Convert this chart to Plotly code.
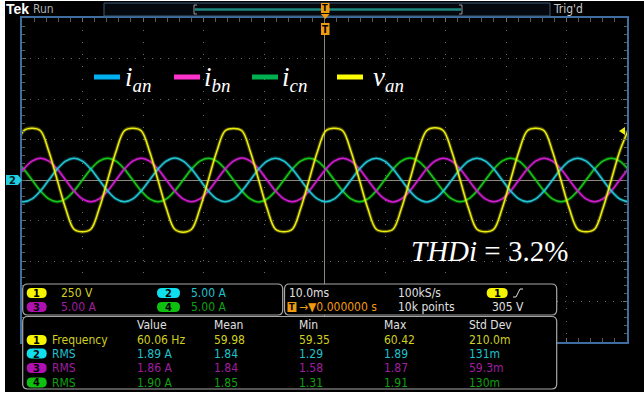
import plotly.graph_objects as go

# ---------------- waveform data (time in ms, currents in A, voltage in V) -------------
t_ms = [-51.113, -49.725, -48.338, -46.95, -45.563, -44.175, -42.788,
        -41.4, -40.013, -38.625, -37.238, -35.85, -34.463, -33.075, -31.688, -30.3, -28.913, -27.525, -26.138,
        -24.75, -23.363, -21.975, -20.588, -19.2, -17.813, -16.425, -15.038, -13.65, -12.263, -10.875, -9.488,
        -8.1, -6.713, -5.325, -3.938, -2.55, -1.163, 0.225, 1.613, 3.0, 4.388, 5.775, 7.163,
        8.55, 9.938, 11.325, 12.713, 14.1, 15.488, 16.875, 18.263, 19.65, 21.038, 22.425, 23.813,
        25.2, 26.588, 27.975, 29.363, 30.75, 32.138, 33.525, 34.913, 36.3, 37.688, 39.075, 40.463,
        41.85, 43.238, 44.625, 46.013, 47.4, 48.788, 50.175]

i_an = [-2.34, -2.70, -2.34, -1.35, 0.00, 1.35, 2.34,
        2.70, 2.34, 1.35, 0.00, -1.35, -2.34, -2.70, -2.34, -1.35, 0.00, 1.35, 2.34,
        2.72, 2.34, 1.35, 0.00, -1.35, -2.34, -2.68, -2.34, -1.35, 0.00, 1.35, 2.34,
        2.70, 2.34, 1.35, 0.00, -1.35, -2.34, -2.70, -2.34, -1.35, 0.00, 1.35, 2.34,
        2.68, 2.34, 1.35, 0.00, -1.35, -2.34, -2.72, -2.34, -1.35, 0.00, 1.35, 2.34,
        2.70, 2.34, 1.35, 0.00, -1.35, -2.34, -2.70, -2.34, -1.35, 0.00, 1.35, 2.34,
        2.70, 2.34, 1.35, 0.00, -1.35, -2.34, -2.70]

i_bn = [0.00, 1.35, 2.34, 2.70, 2.34, 1.35, 0.00,
        -1.35, -2.34, -2.70, -2.34, -1.35, 0.00, 1.35, 2.34, 2.70, 2.34, 1.35, 0.00,
        -1.35, -2.34, -2.68, -2.34, -1.35, 0.00, 1.35, 2.34, 2.72, 2.34, 1.35, 0.00,
        -1.35, -2.34, -2.70, -2.34, -1.35, 0.00, 1.35, 2.34, 2.70, 2.34, 1.35, 0.00,
        -1.35, -2.34, -2.72, -2.34, -1.35, 0.00, 1.35, 2.34, 2.68, 2.34, 1.35, 0.00,
        -1.35, -2.34, -2.70, -2.34, -1.35, 0.00, 1.35, 2.34, 2.70, 2.34, 1.35, 0.00,
        -1.35, -2.34, -2.70, -2.34, -1.35, 0.00, 1.35]

i_cn = [2.34, 1.35, 0.00, -1.35, -2.34, -2.70, -2.34,
        -1.35, 0.00, 1.35, 2.34, 2.70, 2.34, 1.35, 0.00, -1.35, -2.34, -2.70, -2.34,
        -1.35, 0.00, 1.35, 2.34, 2.68, 2.34, 1.35, 0.00, -1.35, -2.34, -2.72, -2.34,
        -1.35, 0.00, 1.35, 2.34, 2.70, 2.34, 1.35, 0.00, -1.35, -2.34, -2.70, -2.34,
        -1.35, 0.00, 1.35, 2.34, 2.72, 2.34, 1.35, 0.00, -1.35, -2.34, -2.68, -2.34,
        -1.35, 0.00, 1.35, 2.34, 2.70, 2.34, 1.35, 0.00, -1.35, -2.34, -2.70, -2.34,
        -1.35, 0.00, 1.35, 2.34, 2.70, 2.34, 1.35]

v_an = [176, 304, 320, 304, 176, 0, -176,
        -304, -320, -304, -176, 0, 176, 304, 320, 304, 176, 0, -176,
        -304, -322, -304, -176, 0, 176, 304, 318, 304, 176, 0, -176,
        -304, -320, -304, -176, 0, 176, 304, 320, 304, 176, 0, -176,
        -304, -318, -304, -176, 0, 176, 304, 322, 304, 176, 0, -176,
        -304, -320, -304, -176, 0, 176, 304, 320, 304, 176, 0, -176,
        -304, -320, -304, -176, 0, 176, 304]

# ---------------- readout texts ----------------
ch_ids = ["1", "2", "3", "4"]
ch_scale = ["250 V", "5.00 A", "5.00 A", "5.00 A"]
meas_headers = ["Value", "Mean", "Min", "Max", "Std Dev"]
meas_names = ["Frequency", "RMS", "RMS", "RMS"]
meas_value = ["60.06 Hz", "1.89 A", "1.86 A", "1.90 A"]
meas_mean = ["59.98", "1.84", "1.84", "1.85"]
meas_min = ["59.35", "1.29", "1.58", "1.31"]
meas_max = ["60.42", "1.89", "1.87", "1.91"]
meas_std = ["210.0m", "131m", "59.3m", "130m"]
horiz_scale = "10.0ms"
sample_rate = "100kS/s"
record_len = "10k points"
trig_level = "305 V"
thd_text = "<i>THDi</i> = 3.2%"

# ---------------- styling ----------------
YEL, CY, MG, GR = "#eeee10", "#22c8d8", "#d21ed2", "#18c818"
YEL_T, CY_T, MG_T, GR_T = "#d0d020", "#20c0cc", "#a01ea0", "#10a010"
PILL = ["#f5f500", "#10e0ee", "#b010b0", "#10c010"]
TXT = [YEL_T, CY_T, MG_T, GR_T]
LEG_COL = ["#00b0f0", "#ff33cc", "#00b050", "#ffff00"]
SANS = "Liberation Sans Narrow, DejaVu Sans Condensed, Roboto Condensed, Arial Narrow, Roboto, sans-serif"
SERIF = "Liberation Serif, DejaVu Serif, serif"

L, R, T, B = 22, 627, 18, 342


def PX(x):
    return (x - L) / (R - L)


def PY(y):
    return (B - y) / (B - T)


def pt(x, y):
    return f"{PX(x):.5f},{PY(y):.5f}"


shapes, annotations = [], []


def rect(x0, y0, x1, y1, fill="rgba(0,0,0,0)", line=None, lw=1):
    shapes.append(dict(type="rect", xref="paper", yref="paper", x0=PX(x0), x1=PX(x1),
                       y0=PY(y1), y1=PY(y0), fillcolor=fill, layer="above",
                       line=dict(color=line if line else "rgba(0,0,0,0)", width=lw if line else 0)))


def path(d, fill="rgba(0,0,0,0)", line=None, lw=1):
    shapes.append(dict(type="path", xref="paper", yref="paper", path=d, fillcolor=fill, layer="above",
                       line=dict(color=line if line else "rgba(0,0,0,0)", width=lw if line else 0)))


def rrect(x0, y0, x1, y1, r, fill="rgba(0,0,0,0)", line=None, lw=1):
    d = (f"M {pt(x0 + r, y0)} L {pt(x1 - r, y0)} Q {pt(x1, y0)} {pt(x1, y0 + r)} "
         f"L {pt(x1, y1 - r)} Q {pt(x1, y1)} {pt(x1 - r, y1)} L {pt(x0 + r, y1)} "
         f"Q {pt(x0, y1)} {pt(x0, y1 - r)} L {pt(x0, y0 + r)} Q {pt(x0, y0)} {pt(x0 + r, y0)} Z")
    path(d, fill, line, lw)


def text(x, y, s, color, size=12, family=SANS, xanchor="left"):
    annotations.append(dict(xref="paper", yref="paper", x=PX(x), y=PY(y), text=s, showarrow=False,
                            xanchor=xanchor, yanchor="middle", borderpad=0,
                            font=dict(color=color, size=size, family=family)))


def pill(x0, yc, idx, w=20, h=10):
    rrect(x0, yc - h / 2, x0 + w, yc + h / 2, h / 2, fill=PILL[idx])
    text(x0 + w / 2, yc + 0.5, f"<b>{ch_ids[idx]}</b>", "#000000", 11, SANS, "center")


# outer white frame strips
rect(0, -2, 5, 397, fill="white")
rect(0, 392, 646, 397, fill="white")
rect(0, -2, 646, 1, fill="white")

# top status bar
text(5, 9, "<b>Tek</b>", "#ffffff", 14, "Liberation Sans, Arial, sans-serif")
text(32, 9.5, "Run", "#b0b0b0", 12, SANS)
rect(104, 3, 550, 16, fill="#05090e", line="#3c5a78", lw=1)
path(f"M {pt(197, 5)} L {pt(194, 5)} L {pt(194, 14)} L {pt(197, 14)}", line="#9a9a9a", lw=1)
path(f"M {pt(459, 5)} L {pt(462, 5)} L {pt(462, 14)} L {pt(459, 14)}", line="#9a9a9a", lw=1)
path(f"M {pt(195, 9.5)} L {pt(461, 9.5)}", line="#1f8a80", lw=2.5)
text(552, 9.5, "Trig'd", "#c8c8c8", 12, SANS)
# trigger position markers
rect(321, 3, 329.5, 13, fill="#f09a10")
text(325.3, 8.5, "<b>T</b>", "#000000", 9, SANS, "center")
path(f"M {pt(321, 14)} L {pt(329.5, 14)} L {pt(325.3, 19)} Z", fill="#f09a10")
rect(321, 23, 329.5, 35, fill="#f09a10")
text(325.3, 29.5, "<b>T</b>", "#000000", 10, SANS, "center")

# channel 2 ground marker (left) and trigger level marker (right)
path(f"M {pt(6, 175)} L {pt(18, 175)} L {pt(22, 180)} L {pt(18, 185)} L {pt(6, 185)} Z", fill="#20d0e0")
text(12, 180.5, "<b>2</b>", "#002020", 11, SANS, "center")
path(f"M {pt(619, 131)} L {pt(625, 127)} L {pt(625, 135)} Z", fill="#f0f010")

# in-plot legend
leg_x = [94, 174, 252, 337]
leg_lbl = ["<i>i</i><sub><i>an</i></sub>", "<i>i</i><sub><i>bn</i></sub>",
           "<i>i</i><sub><i>cn</i></sub>", "<i>v</i><sub><i>an</i></sub>"]
leg_tx = [124, 203, 281, 372]
for k in range(4):
    rect(leg_x[k], 74.5, leg_x[k] + 26, 79.5, fill=LEG_COL[k])
    text(leg_tx[k], 79, leg_lbl[k], "#ffffff", 27, SERIF)

text(410, 251, thd_text, "#ffffff", 29, SERIF)

# readout boxes
rrect(22.7, 284, 282.7, 315, 5, fill="#000000", line="#a8a8a8", lw=1.2)
rrect(284.5, 284, 556.7, 315, 5, fill="#000000", line="#a8a8a8", lw=1.2)
rrect(22.7, 316.5, 556.7, 389, 5, fill="#000000", line="#a8a8a8", lw=1.2)

# channel scale box
pos = [(26.7, 293), (157, 293), (26.7, 307), (157, 307)]
for k in range(4):
    pill(pos[k][0], pos[k][1], k, w=20 if k in (0, 2) else 23)
    text(pos[k][0] + 33, pos[k][1], ch_scale[k], TXT[k], 12)

# horizontal / trigger box
text(288, 293, horiz_scale, "#e0e0e0", 12)
rect(287.5, 302, 296.5, 312, fill="#f09a10")
text(292, 307.3, "<b>T</b>", "#000000", 9, SANS, "center")
text(297.5, 307, "\u2192\u25bc0.000000 s", "#f09a10", 12)
text(397, 293, sample_rate, "#e0e0e0", 12)
text(397, 307, record_len, "#e0e0e0", 12)
pill(486.7, 293, 0, w=21)
path(f"M {pt(513, 297)} L {pt(516, 297)} L {pt(520, 289)} L {pt(523, 289)}", line="#e0e0e0", lw=1)
text(525, 307, trig_level, "#e0e0e0", 12, SANS, "right")

# measurement table
col_x = [136, 212.5, 297.5, 383, 468]
row_y = [340, 353.5, 368, 382.5]
for c, h in enumerate(meas_headers):
    text(col_x[c], 325, h, "#e0e0e0", 12)
cols = [meas_value, meas_mean, meas_min, meas_max, meas_std]
for r in range(4):
    pill(26.7, row_y[r], r)
    text(50.5, row_y[r], meas_names[r], TXT[r], 12)
    for c in range(5):
        text(col_x[c], row_y[r], cols[c][r], TXT[r], 12)

# ---------------- figure ----------------
fig = go.Figure()
traces = [(i_cn, GR, "y"), (i_bn, MG, "y"), (i_an, CY, "y"), (v_an, YEL, "y2")]
for ys, col, ax in traces:
    fig.add_trace(go.Scatter(x=t_ms, y=ys, yaxis=ax, mode="lines", opacity=0.3,
                             line=dict(color=col, width=3.6, shape="spline", smoothing=1),
                             hoverinfo="skip"))
    fig.add_trace(go.Scatter(x=t_ms, y=ys, yaxis=ax, mode="lines",
                             line=dict(color=col, width=1.5, shape="spline", smoothing=1)))

axis_common = dict(showticklabels=False, showline=True, linecolor="#3f6e9e", linewidth=1.5,
                   mirror="allticks", ticks="inside", ticklen=4, tickcolor="#6a6a6a",
                   zeroline=True, zerolinecolor="#8f8778", zerolinewidth=1,
                   gridcolor="#6a6a6a", gridwidth=1, fixedrange=True)
fig.update_layout(
    width=644, height=395,
    margin=dict(l=L, r=644 - R, t=T, b=395 - B, pad=0),
    paper_bgcolor="#000000", plot_bgcolor="#000000",
    showlegend=False,
    xaxis=dict(range=[-50, 50], dtick=10, griddash="1px,11.1px",
               minor=dict(dtick=2, ticks="inside", ticklen=3, tickcolor="#5a5a5a", showgrid=False),
               **axis_common),
    yaxis=dict(range=[-20, 20], dtick=5, griddash="1px,7.1px",
               minor=dict(dtick=1, ticks="inside", ticklen=3, tickcolor="#5a5a5a", showgrid=False),
               **axis_common),
    yaxis2=dict(range=[-1000, 1000], overlaying="y", visible=False, fixedrange=True),
    shapes=shapes, annotations=annotations,
)
fig.write_html("out.html")
